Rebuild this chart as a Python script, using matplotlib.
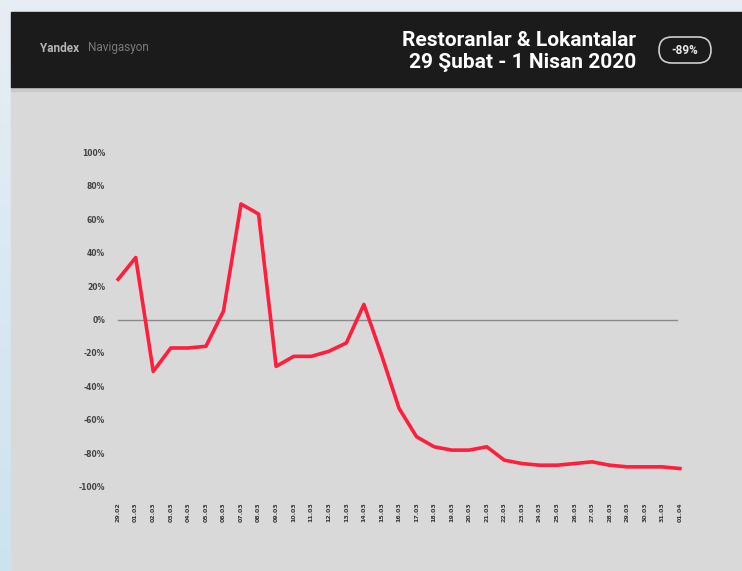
import numpy as np
import matplotlib.pyplot as plt
from matplotlib.patches import Rectangle, FancyBboxPatch

# gun etiketleri: 29 Subat - 1 Nisan
days = ["29.02"] + ["%02d.03" % d for d in range(1, 32)] + ["01.04"]
# restoran & lokanta degisim (%)
values = [24, 37, -31, -17, -17, -16, 5, 69, 63, -28, -22, -22, -19, -14, 9,
          -21, -53, -70, -76, -78, -78, -76, -84, -86, -87, -87, -86, -85,
          -87, -88, -88, -88, -89]
yticks = [100, 80, 60, 40, 20, 0, -20, -40, -60, -80, -100]
ytick_labels = ["%d%%" % t for t in yticks]

W, H = 742, 571
fig = plt.figure(figsize=(W / 100, H / 100), dpi=100)

# arka plan (acik mavi gecis)
bg = fig.add_axes([0, 0, 1, 1])
grad = np.linspace(0, 1, 256).reshape(-1, 1)
top = np.array([0.91, 0.93, 0.96])
bot = np.array([0.80, 0.89, 0.94])
img = top + grad[..., None] * (bot - top)
bg.imshow(img, aspect="auto", extent=[0, W, H, 0])
bg.set_xlim(0, W)
bg.set_ylim(H, 0)
bg.axis("off")

# panel ve baslik cubugu
bg.add_patch(Rectangle((11, 86), W - 11, H - 86, color="#d9d9d9", zorder=2))
bg.add_patch(Rectangle((11, 86), W - 11, 5, color="#c9c9c9", zorder=2))
bg.add_patch(Rectangle((11, 12), W - 11, 75, color="#1b1b1b", zorder=3))

bg.text(40, 48, "Yandex", color="#b5b5b5", fontsize=8.5, fontweight="bold",
        va="center", ha="left", zorder=4, family="Roboto")
bg.text(88, 48, "Navigasyon", color="#7a7a7a", fontsize=8.5,
        va="center", ha="left", zorder=4, family="Roboto")

bg.text(636, 40, "Restoranlar & Lokantalar", color="white", fontsize=15,
        fontweight="bold", ha="right", va="center", zorder=4, family="Roboto")
bg.text(636, 63, "29 Şubat - 1 Nisan 2020", color="white", fontsize=15,
        fontweight="bold", ha="right", va="center", zorder=4, family="Roboto")

bg.add_patch(FancyBboxPatch((659, 37), 52, 26, boxstyle="round,pad=0,rounding_size=13",
                            fc="#1b1b1b", ec="#cfcfcf", lw=1.2, zorder=4))
bg.text(685, 50, "-89%", color="#e8e8e8", fontsize=8.5, fontweight="bold",
        ha="center", va="center", zorder=5, family="Roboto")

# grafik
ax = fig.add_axes([112 / W, (H - 495) / H, 574 / W, 355 / H])
ax.patch.set_alpha(0)
x = np.arange(len(values))
ax.axhline(0, xmin=0.01, xmax=0.985, color="#8a8a8a", lw=1)
ax.plot(x, values, color="#ff1e3c", lw=2.6, solid_joinstyle="round")
ax.set_xlim(-0.35, len(values) - 0.65)
ax.set_ylim(-104.8, 107.2)
ax.set_yticks(yticks)
ax.set_yticklabels(ytick_labels, fontsize=5.5, color="#444444", fontweight="bold")
ax.set_xticks(x)
ax.set_xticklabels(days, rotation=90, fontsize=4.5, color="#3a3a3a", fontweight="bold")
ax.tick_params(length=0, pad=5)
for s in ax.spines.values():
    s.set_visible(False)

fig.savefig("out.png", dpi=100)
